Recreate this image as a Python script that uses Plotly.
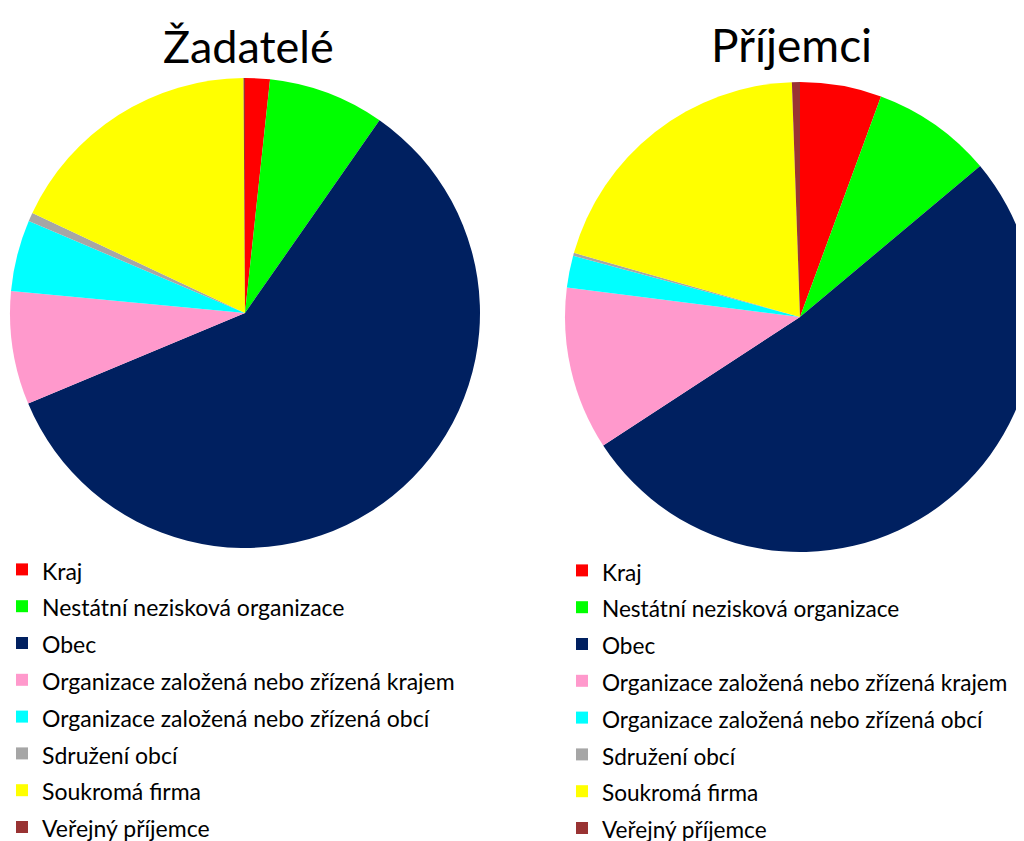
import plotly.graph_objects as go

categories = [
    "Kraj",
    "Nestátní nezisková organizace",
    "Obec",
    "Organizace založená nebo zřízená krajem",
    "Organizace založená nebo zřízená obcí",
    "Sdružení obcí",
    "Soukromá firma",
    "Veřejný příjemce",
]
zadatele = [1.7, 8.0, 59.0, 7.8, 4.9, 0.6, 17.9, 0.1]
prijemci = [5.6, 8.3, 51.9, 11.2, 2.2, 0.2, 20.05, 0.55]
titles = ["Žadatelé", "Příjemci"]

colors = ["#FF0000", "#00FF00", "#002060", "#FF99CC", "#00FFFF", "#A6A6A6", "#FFFF00", "#993333"]

# page body has an 8px margin; figure is a bit larger than the window so the
# right pie and the legends are clipped by the window like in the original
OFF = 8
W, H = 1030, 900
FONT = "Lato, 'Open Sans', sans-serif"


def px_x(v):
    return (v - OFF) / W


def px_y(v):
    return 1 - (v - OFF) / H


labels_left = [f'<span style="font-size:23px">{c}</span>' for c in categories]
labels_right = [f'<span style="font-size:22.6px">{c}</span>' for c in categories]

fig = go.Figure()
fig.add_trace(go.Pie(
    labels=labels_left, values=zadatele, sort=False, direction="clockwise", rotation=0,
    marker=dict(colors=colors, line=dict(width=0)), textinfo="none", hoverinfo="label+percent",
    domain=dict(x=[px_x(10), px_x(480)], y=[px_y(548), px_y(78)]),
    legend="legend",
))
fig.add_trace(go.Pie(
    labels=labels_right, values=prijemci, sort=False, direction="clockwise", rotation=0,
    marker=dict(colors=colors, line=dict(width=0)), textinfo="none", hoverinfo="label+percent",
    domain=dict(x=[px_x(565), px_x(1035)], y=[px_y(552), px_y(82)]),
    legend="legend2",
))

fig.add_annotation(text=titles[0], x=px_x(248), y=px_y(46), xref="paper", yref="paper",
                   xanchor="center", yanchor="middle",
                   showarrow=False, font=dict(size=45, family=FONT, color="#000000"))
fig.add_annotation(text=titles[1], x=px_x(791), y=px_y(45), xref="paper", yref="paper",
                   xanchor="center", yanchor="middle",
                   showarrow=False, font=dict(size=46, family=FONT, color="#000000"))

legend_common = dict(
    font=dict(size=26, family=FONT, color="#000000"),
    bgcolor="rgba(0,0,0,0)", borderwidth=0,
    xanchor="left", yanchor="top", traceorder="normal",
)
fig.update_layout(
    width=W, height=H,
    margin=dict(l=0, r=0, t=0, b=0, autoexpand=False),
    paper_bgcolor="#FFFFFF", plot_bgcolor="#FFFFFF",
    font=dict(family=FONT),
    showlegend=True,
    legend=dict(x=px_x(2), y=px_y(546), **legend_common),
    legend2=dict(x=px_x(562), y=px_y(547), **legend_common),
)

fig.write_html("out.html")
